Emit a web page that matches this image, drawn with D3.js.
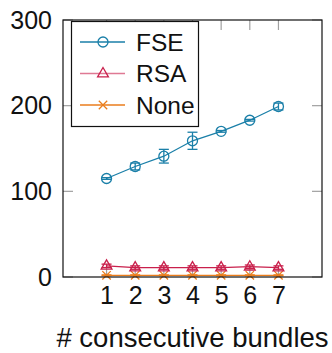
<!DOCTYPE html>
<html>
<head>
<meta charset="utf-8">
<script src="https://cdn.jsdelivr.net/npm/d3@7"></script>
<style>
  html, body { margin: 0; padding: 0; background: #fff; }
  svg { display: block; }
  text { font-family: "Liberation Sans", Arial, sans-serif; fill: #111; }
</style>
</head>
<body>
<svg id="chart" width="332" height="353"></svg>
<script>
// Number of consecutive bundles
const bundles = [1, 2, 3, 4, 5, 6, 7];

// Mean values per method, with error half-widths
const fseValues = [115, 129, 141, 159, 170, 183, 199];
const fseErrors = [1, 4, 8, 10, 1, 1, 4];
const rsaValues = [13, 11, 11, 11, 11, 12, 11];
const rsaErrors = [2, 2, 2, 2, 2, 2, 2];
const noneValues = [2, 2, 2, 2, 2, 2, 2];
const noneErrors = [0.5, 0.5, 0.5, 0.5, 0.5, 0.5, 0.5];

const yTicks = [0, 100, 200, 300];
const xLabel = "# consecutive bundles";

const series = [
  { name: "FSE", values: fseValues, errors: fseErrors, color: "#1a7fa8", marker: "circle" },
  { name: "RSA", values: rsaValues, errors: rsaErrors, color: "#c9204c", marker: "triangle" },
  { name: "None", values: noneValues, errors: noneErrors, color: "#ea7d1c", marker: "cross" }
];

const plot = { left: 63, right: 322, top: 20, bottom: 277 };

const svg = d3.select("#chart");

const x = d3.scaleLinear().domain([-0.52, 8.52]).range([plot.left, plot.right]);
const y = d3.scaleLinear().domain([0, 300]).range([plot.bottom, plot.top]);

// Inward tick marks on all four sides
const tickLen = 10;
const tickColor = "#a0a0a0";
const ticks = svg.append("g");
bundles.forEach(b => {
  ticks.append("line").attr("x1", x(b)).attr("x2", x(b))
    .attr("y1", plot.bottom).attr("y2", plot.bottom - tickLen)
    .attr("stroke", tickColor).attr("stroke-width", 1.2);
  ticks.append("line").attr("x1", x(b)).attr("x2", x(b))
    .attr("y1", plot.top).attr("y2", plot.top + tickLen)
    .attr("stroke", tickColor).attr("stroke-width", 1.2);
});
yTicks.forEach(t => {
  ticks.append("line").attr("x1", plot.left).attr("x2", plot.left + tickLen)
    .attr("y1", y(t)).attr("y2", y(t))
    .attr("stroke", tickColor).attr("stroke-width", 1.2);
  ticks.append("line").attr("x1", plot.right).attr("x2", plot.right - tickLen)
    .attr("y1", y(t)).attr("y2", y(t))
    .attr("stroke", tickColor).attr("stroke-width", 1.2);
});

// Tick labels
const xAxis = d3.axisBottom(x).tickValues(bundles).tickSize(0).tickPadding(9).tickFormat(d3.format("d"));
const gx = svg.append("g").attr("transform", `translate(0,${plot.bottom})`).call(xAxis);
gx.select(".domain").remove();
gx.selectAll("text").attr("font-size", 25).attr("font-family", "Liberation Sans, Arial, sans-serif").attr("fill", "#111");

const yAxis = d3.axisLeft(y).tickValues(yTicks).tickSize(0).tickPadding(11).tickFormat(d3.format("d"));
const gy = svg.append("g").attr("transform", `translate(${plot.left},0)`).call(yAxis);
gy.select(".domain").remove();
gy.selectAll("text").attr("font-size", 25).attr("font-family", "Liberation Sans, Arial, sans-serif").attr("fill", "#111");

// Marker drawing helper
function drawMarker(g, type, cx, cy, color) {
  if (type === "circle") {
    g.append("circle").attr("cx", cx).attr("cy", cy).attr("r", 5)
      .attr("fill", "none").attr("stroke", color).attr("stroke-width", 1.3);
  } else if (type === "triangle") {
    const s = 6;
    g.append("path")
      .attr("d", `M${cx},${cy - s} L${cx + s * 0.9},${cy + s * 0.55} L${cx - s * 0.9},${cy + s * 0.55} Z`)
      .attr("fill", "none").attr("stroke", color).attr("stroke-width", 1.3);
  } else {
    const s = 4.2;
    g.append("path")
      .attr("d", `M${cx - s},${cy - s} L${cx + s},${cy + s} M${cx - s},${cy + s} L${cx + s},${cy - s}`)
      .attr("fill", "none").attr("stroke", color).attr("stroke-width", 1.3);
  }
}

// Series: line, error bars, markers
const line = d3.line().x((d, i) => x(bundles[i])).y(d => y(d));
series.slice().reverse().forEach(s => {
  const g = svg.append("g");
  g.append("path").datum(s.values).attr("d", line)
    .attr("fill", "none").attr("stroke", s.color).attr("stroke-width", 1.3);
  s.values.forEach((v, i) => {
    const cx = x(bundles[i]);
    const e = s.errors[i];
    const y0 = y(v - e), y1 = y(v + e);
    g.append("line").attr("x1", cx).attr("x2", cx).attr("y1", y0).attr("y2", y1)
      .attr("stroke", s.color).attr("stroke-width", 1.3);
    [y0, y1].forEach(yy => g.append("line")
      .attr("x1", cx - 5).attr("x2", cx + 5).attr("y1", yy).attr("y2", yy)
      .attr("stroke", s.color).attr("stroke-width", 1.3));
    drawMarker(g, s.marker, cx, y(v), s.color);
  });
});

// Frame
svg.append("rect").attr("x", plot.left).attr("y", plot.top)
  .attr("width", plot.right - plot.left).attr("height", plot.bottom - plot.top)
  .attr("fill", "none").attr("stroke", "#111").attr("stroke-width", 1.2);

// Legend
const leg = { x: 71.5, y: 21.5, w: 127, h: 105 };
const lg = svg.append("g");
lg.append("rect").attr("x", leg.x).attr("y", leg.y).attr("width", leg.w).attr("height", leg.h)
  .attr("fill", "#fff").attr("stroke", "#111").attr("stroke-width", 1.2);
const rowY = [42, 73.5, 105];
series.forEach((s, i) => {
  lg.append("line").attr("x1", 80).attr("x2", 125).attr("y1", rowY[i]).attr("y2", rowY[i])
    .attr("stroke", s.color).attr("stroke-width", 1.5)
    .attr("stroke-opacity", s.name === "RSA" ? 0.6 : 1);
  drawMarker(lg, s.marker, 103, rowY[i], s.color);
  lg.append("text").attr("x", 136).attr("y", rowY[i]).attr("dy", "0.36em")
    .attr("font-size", 24.5).text(s.name);
});

// Axis title
svg.append("text").attr("x", (plot.left + plot.right) / 2).attr("y", 337).attr("dy", "0.36em")
  .attr("text-anchor", "middle").attr("font-size", 27.5).text(xLabel);
</script>
</body>
</html>
